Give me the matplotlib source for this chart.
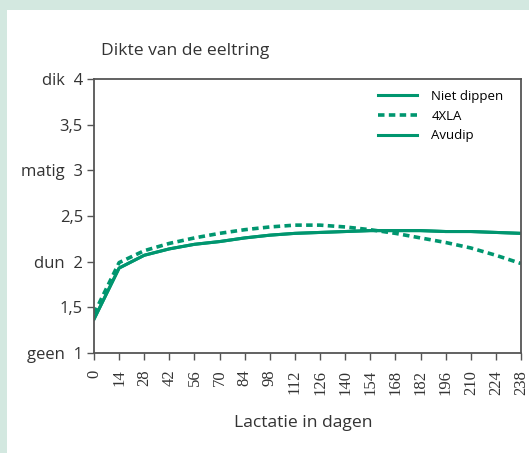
import matplotlib.pyplot as plt
from matplotlib.patches import Rectangle

days = [0, 14, 28, 42, 56, 70, 84, 98, 112, 126, 140, 154, 168, 182, 196, 210, 224, 238]
niet_dippen = [1.37, 1.93, 2.07, 2.14, 2.19, 2.22, 2.26, 2.29, 2.31, 2.32, 2.33, 2.34, 2.34, 2.34, 2.33, 2.33, 2.32, 2.31]
xla4 = [1.43, 1.99, 2.12, 2.20, 2.26, 2.31, 2.35, 2.38, 2.40, 2.40, 2.38, 2.35, 2.31, 2.26, 2.21, 2.15, 2.07, 1.98]
avudip = [1.37, 1.93, 2.07, 2.14, 2.19, 2.22, 2.26, 2.29, 2.31, 2.32, 2.33, 2.34, 2.34, 2.34, 2.33, 2.33, 2.32, 2.31]
y_ticks = [1, 1.5, 2, 2.5, 3, 3.5, 4]
y_labels = ["geen  1", "1,5", "dun  2", "2,5", "matig  3", "3,5", "dik  4"]

GREEN = "#00966f"
SPINE = "#555555"
TEXT = "#333333"
SANS = ["Open Sans", "DejaVu Sans"]

fig = plt.figure(figsize=(5.29, 4.53), dpi=100)
fig.patch.set_facecolor("#d3e8e0")
fig.patches.append(Rectangle((7 / 529, 0), 1, 1 - 10 / 453, transform=fig.transFigure,
                             facecolor="white", edgecolor="none", zorder=-10))

ax = fig.add_axes([94 / 529, 1 - 353 / 453, 427 / 529, 274 / 453])
ax.plot(days, niet_dippen, color=GREEN, lw=2.2, label="Niet dippen")
ax.plot(days, xla4, color=GREEN, lw=2.6, ls=(0, (1.8, 1.2)), label="4XLA")
ax.plot(days, avudip, color=GREEN, lw=2.2, label="Avudip")

ax.set_xlim(0, 238)
ax.set_ylim(1, 4)
ax.set_xticks(days)
ax.set_xticklabels([str(d) for d in days], rotation=90, family=["Liberation Serif"], fontsize=12, color=TEXT)
ax.set_yticks(y_ticks)
ax.set_yticklabels(y_labels, family=SANS, fontsize=12, color=TEXT)
ax.tick_params(axis="both", color=SPINE, length=5, width=1)
ax.tick_params(axis="x", pad=7)
ax.tick_params(axis="y", pad=3)
for s in ax.spines.values():
    s.set_color(SPINE)
    s.set_linewidth(1.3)

ax.legend(loc="upper left", frameon=False, prop={"family": SANS, "size": 9.5},
          handlelength=2.95, handletextpad=1.1, labelspacing=0.5,
          borderpad=0, borderaxespad=0, bbox_to_anchor=(0.665, 0.96))

fig.text(101 / 529, 1 - 51 / 453, "Dikte van de eeltring", family=SANS, fontsize=12.6,
         color=TEXT, va="center", ha="left")
fig.text(303 / 529, 1 - 423 / 453, "Lactatie in dagen", family=SANS, fontsize=12.6,
         color=TEXT, va="center", ha="center")

fig.savefig("out.png", dpi=100, facecolor=fig.get_facecolor())
